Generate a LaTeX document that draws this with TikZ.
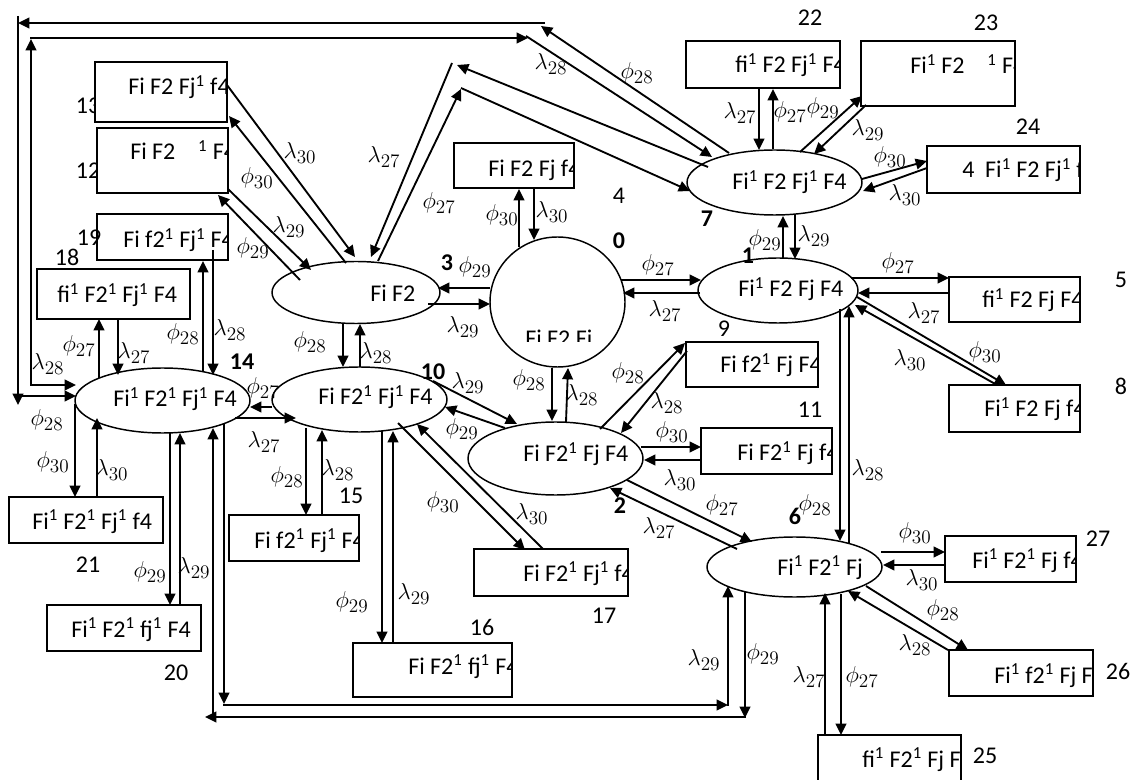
\documentclass[tikz,border=0pt]{standalone}
\usepackage{fontspec}
\setmainfont{Carlito}
\usetikzlibrary{arrows.meta,shapes.geometric,fit}
\newcommand{\su}{\textsuperscript{1}}
\newcommand{\rb}[8]{%
  \node[bx,fit={(#2,#3) (#4,#5)}] (#1) {};
  \begin{scope}
    \clip (#2,#3) rectangle (#4,#5);
    \node[txt,anchor=base west] (#1t) at (#6,#7) {#8};
  \end{scope}}
\newcommand{\lb}[4]{\node[lab] (#1) at (#2,#3) {$#4$};}
\begin{document}
\begin{tikzpicture}[x=0.75pt,y=-0.75pt,
  ell/.style={draw,ellipse,line width=1.1pt,inner sep=0pt,fill=white},
  bx/.style={draw,line width=1.1pt,fill=white,inner sep=0pt},
  txt/.style={font=\fontsize{18}{21}\selectfont,inner sep=0pt},
  num/.style={font=\fontsize{18}{21}\selectfont,inner sep=0pt},
  bnum/.style={font=\fontsize{18}{21}\selectfont\bfseries,inner sep=0pt},
  lab/.style={font=\fontsize{19}{22}\selectfont,inner sep=0pt},
  cn/.style={line width=1.4pt},
  ar/.style={cn,-{Triangle[length=8.5pt,width=8pt]}},
]
\useasboundingbox (0,0) rectangle (1132,780);

% numbers partly hidden behind boxes
\node[num] (k13) at (88,106) {13};
\node[num] (k12) at (88,171) {12};

% ellipses
\node[ell,minimum width=126pt,minimum height=46.5pt] (n3) at (356,292.5) {};
\node[ell,minimum width=101.25pt,minimum height=97.5pt] (n0) at (557.5,302) {};
\node[ell,minimum width=120pt,minimum height=48.75pt] (n1) at (778,290.5) {};
\node[ell,minimum width=131.25pt,minimum height=48.75pt] (n7) at (774.5,182.5) {};
\node[ell,minimum width=131.25pt,minimum height=54.75pt] (n2) at (555.5,458.5) {};
\node[ell,minimum width=131.25pt,minimum height=48.75pt] (n10) at (359.5,399.5) {};
\node[ell,minimum width=131.25pt,minimum height=48.75pt] (n14) at (162.5,400.5) {};
\node[ell,minimum width=131.25pt,minimum height=45pt] (n6) at (794.5,567) {};

\node[txt,anchor=base west] (n3t) at (370,302) {Fi F2};
\begin{scope}
  \clip (480,230) rectangle (640,342);
  \node[txt,anchor=base west] (n0t) at (525,347) {Fi F2 Fi};
\end{scope}
\node[txt,anchor=base west] (n1t) at (738,297) {Fi\su{} F2 Fj F4};
\node[txt,anchor=base west] (n7t) at (732,190) {Fi\su{} F2 Fj\su{} F4};
\node[txt,anchor=base west] (n2t) at (523,462) {Fi F2\su{} Fj F4};
\node[txt,anchor=base west] (n10t) at (318,405) {Fi F2\su{} Fj\su{} F4};
\node[txt,anchor=base west] (n14t) at (113,407) {Fi\su{} F2\su{} Fj\su{} F4};
\node[txt,anchor=base west] (n6t) at (777,575) {Fi\su{} F2\su{} Fj};

% boxes
\rb{b13}{95}{62}{227}{122}{128}{95}{Fi F2 Fj\su{} f4}
\rb{b12}{97}{128}{228}{193}{130}{160}{Fi F2\hspace{0.95em}\su{} F4}
\rb{b19}{97}{214}{228}{260}{123}{248}{Fi f2\su{} Fj\su{} F4}
\rb{b18}{37}{269}{190}{319}{57}{303}{fi\su{} F2\su{} Fj\su{} F4}
\rb{b4}{454}{143}{574}{188}{488}{177}{Fi F2 Fj f4}
\rb{b22}{686}{41}{840}{88}{735}{73}{fi\su{} F2 Fj\su{} F4}
\rb{b23}{861}{41}{1015}{106}{910}{74}{Fi\su{} F2\hspace{0.95em}\su{} F4}
\rb{b24}{927}{146}{1080}{193}{962}{178}{4\hspace{0.45em}Fi\su{} F2 Fj\su{} f4}
\rb{b5}{949}{277}{1080}{322}{982}{308}{fi\su{} F2 Fj F4}
\rb{b8}{949}{385}{1080}{432}{984}{417}{Fi\su{} F2 Fj f4}
\rb{b9}{686}{342}{818}{387}{720}{373}{Fi f2\su{} Fj F4}
\rb{b11}{701}{428}{832}{474}{737}{461}{Fi F2\su{} Fj f4}
\rb{b27}{945}{536}{1076}{582}{972}{568}{Fi\su{} F2\su{} Fj f4}
\rb{b26}{949}{650}{1093}{696}{994}{683}{Fi\su{} f2\su{} Fj F4}
\rb{b25}{818}{735}{961}{790}{862}{767}{fi\su{} F2\su{} Fj F4}
\rb{b17}{474}{549}{628}{596}{523}{581}{Fi F2\su{} Fj\su{} f4}
\rb{b16}{353}{643}{512}{697}{408}{674}{Fi F2\su{} fj\su{} F4}
\rb{b15}{229}{515}{359}{561}{254}{548}{Fi f2\su{} Fj\su{} F4}
\rb{b21}{9}{497}{163}{543}{32}{529}{Fi\su{} F2\su{} Fj\su{} f4}
\rb{b20}{47}{605}{201}{651}{71}{637}{Fi\su{} F2\su{} fj\su{} F4}

% ---------- connectors ----------
% 7 -> 14 (phi28) round the top and the left
\draw[ar] (729,153) -- (541,26);
\draw[ar] (545,23) -- (18,23);
\draw[ar] (18,16) -- (18,405);
\draw[ar] (17.3,396) -- (76,396);
% 14 -> 7 (lambda28)
\draw[ar] (31,385) -- (76,385);
\draw[ar] (31,385.7) -- (31,39);
\draw[ar] (30.3,38) -- (528,38);
\draw[ar] (526,36) -- (712,157);
% 3 <-> 7 (lambda27 / phi27)
\draw[ar] (708,167) -- (457,65);
\draw[ar] (452,63) -- (371,257);
\draw[ar] (378,261) -- (461,89);
\draw[ar] (461,88) -- (690,191);
% 13 <-> 3
\draw[ar] (227,85) -- (355,257);
\draw[ar] (346,263) -- (229,116);
% 12 <-> 3
\draw[ar] (228,189) -- (311,270);
\draw[ar] (300,280) -- (218,195);
% 3 <-> 0
\draw[ar] (490,288) -- (438,288);
\draw[ar] (428,304) -- (490,304);
% 0 <-> 4
\draw[ar] (519,247) -- (519,189);
\draw[ar] (534,189) -- (534,240);
% 0 <-> 2
\draw[ar] (552,368) -- (552,421);
\draw[ar] (566,422) -- (568,368);
% 0 <-> 1
\draw[ar] (621,280) -- (701,280);
\draw[ar] (700,293) -- (623,293);
% 1 <-> 7
\draw[ar] (783,258) -- (783,216);
\draw[ar] (795,215) -- (795,259);
% 7 <-> 22
\draw[ar] (759,88) -- (759,150);
\draw[ar] (773,149) -- (773,89);
% 7 <-> 23
\draw[ar] (800,152) -- (862,96);
\draw[ar] (866,105) -- (814,154);
% 7 <-> 24
\draw[ar] (862,179) -- (927,161);
\draw[ar] (927,168) -- (863,191);
% 1 <-> 5
\draw[ar] (851,278) -- (949,278);
\draw[ar] (949,293) -- (858,293);
% 1 <-> 8
\draw[ar] (857,297) -- (1006,385);
\draw[ar] (997,385) -- (855,305);
% 1 <-> 6
\draw[ar] (840,309) -- (840,541);
\draw[ar] (849,543) -- (849,306);
% 2 <-> 9
\draw[ar] (600,429) -- (685,343);
\draw[ar] (687,351) -- (621,433);
% 2 <-> 11
\draw[ar] (641,447) -- (701,447);
\draw[ar] (701,460) -- (644,460);
% 2 <-> 6
\draw[ar] (627,480) -- (752,542);
\draw[ar] (737,549) -- (610,488);
% 6 <-> 27
\draw[ar] (881,552) -- (945,552);
\draw[ar] (945,565) -- (883,565);
% 6 <-> 26
\draw[ar] (866,586) -- (968,650);
\draw[ar] (948,650) -- (848,591);
% 6 <-> 25
\draw[ar] (825,735) -- (825,593);
\draw[ar] (841,594) -- (841,735);
% 6 -> 14 round the bottom (lambda29)
\draw[ar] (745,592) -- (745,718);
\draw[ar] (745.7,717) -- (205,717);
\draw[ar] (213,717.7) -- (213,428);
% 14 -> 6 round the bottom (phi29)
\draw[ar] (224,423) -- (224,704);
\draw[ar] (223.3,705) -- (728,705);
\draw[ar] (728,705.7) -- (728,586);
% 14 <-> 20
\draw[ar] (170,433) -- (170,605);
\draw[ar] (180,605) -- (180,433);
% 14 <-> 21
\draw[ar] (75,404) -- (75,497);
\draw[ar] (97,497) -- (97,418);
% 14 <-> 18
\draw[ar] (99,378) -- (99,319);
\draw[ar] (118,319) -- (118,375);
% 14 <-> 19
\draw[ar] (203,372) -- (203,261);
\draw[ar] (213,250) -- (213,375);
% 3 <-> 10
\draw[ar] (343,323) -- (343,367);
\draw[ar] (360,367) -- (360,324);
% 14 <-> 10
\draw[ar] (272,407) -- (250,407);
\draw[ar] (235,418) -- (296,418);
% 10 <-> 15
\draw[ar] (306,428) -- (306,515);
\draw[ar] (322,515) -- (322,430);
% 10 <-> 16
\draw[ar] (382,431) -- (382,643);
\draw[ar] (393,643) -- (393,431);
% 10 <-> 17
\draw[ar] (398,423) -- (525,550);
\draw[ar] (543,549) -- (417,424);
% 10 <-> 2
\draw[ar] (433,381) -- (517,424);
\draw[ar] (505,428) -- (445,407);

% ---------- rate labels ----------
\lb{L1}{551}{64}{\lambda_{28}}
\lb{L2}{637}{73}{\phi_{28}}
\lb{L3}{384}{157}{\lambda_{27}}
\lb{L4}{439}{203}{\phi_{27}}
\lb{L5}{300}{153}{\lambda_{30}}
\lb{L6}{257}{178}{\phi_{30}}
\lb{L7}{289}{227}{\lambda_{29}}
\lb{L8}{253}{248}{\phi_{29}}
\lb{L9}{502}{215}{\phi_{30}}
\lb{L10}{552}{212}{\lambda_{30}}
\lb{L11}{475}{267}{\phi_{29}}
\lb{L12}{463}{327}{\lambda_{29}}
\lb{L13}{658}{265}{\phi_{27}}
\lb{L14}{665}{311}{\lambda_{27}}
\lb{L15}{628}{373}{\phi_{28}}
\lb{L16}{667}{403}{\lambda_{28}}
\lb{L17}{672}{432}{\phi_{30}}
\lb{L18}{680}{480}{\lambda_{30}}
\lb{L19}{529}{380}{\phi_{28}}
\lb{L20}{582}{395}{\lambda_{28}}
\lb{L21}{468}{383}{\lambda_{29}}
\lb{L22}{462}{429}{\phi_{29}}
\lb{L23}{310}{342}{\phi_{28}}
\lb{L24}{376}{353}{\lambda_{28}}
\lb{L25}{263}{388}{\phi_{27}}
\lb{L26}{264}{442}{\lambda_{27}}
\lb{L27}{287}{477}{\phi_{28}}
\lb{L28}{338}{470}{\lambda_{28}}
\lb{L29}{443}{502}{\phi_{30}}
\lb{L30}{532}{514}{\lambda_{30}}
\lb{L31}{352}{602}{\phi_{29}}
\lb{L32}{414}{594}{\lambda_{29}}
\lb{L33}{722}{505}{\phi_{27}}
\lb{L34}{659}{528}{\lambda_{27}}
\lb{L35}{704}{660}{\lambda_{29}}
\lb{L36}{763}{654}{\phi_{29}}
\lb{L37}{815}{505}{\phi_{28}}
\lb{L38}{868}{470}{\lambda_{28}}
\lb{L39}{915}{533}{\phi_{30}}
\lb{L40}{922}{580}{\lambda_{30}}
\lb{L41}{943}{610}{\phi_{28}}
\lb{L42}{915}{645}{\lambda_{28}}
\lb{L43}{809}{677}{\lambda_{27}}
\lb{L44}{862}{677}{\phi_{27}}
\lb{L45}{898}{263}{\phi_{27}}
\lb{L46}{924}{313}{\lambda_{27}}
\lb{L47}{985}{352}{\phi_{30}}
\lb{L48}{910}{360}{\lambda_{30}}
\lb{L49}{765}{240}{\phi_{29}}
\lb{L50}{814}{236}{\lambda_{29}}
\lb{L51}{740}{113}{\lambda_{27}}
\lb{L52}{790}{112}{\phi_{27}}
\lb{L53}{823}{108}{\phi_{29}}
\lb{L54}{868}{130}{\lambda_{29}}
\lb{L55}{890}{157}{\phi_{30}}
\lb{L56}{905}{195}{\lambda_{30}}
\lb{L57}{48}{364}{\lambda_{28}}
\lb{L58}{47}{420}{\phi_{28}}
\lb{L59}{79}{346}{\phi_{27}}
\lb{L60}{134}{353}{\lambda_{27}}
\lb{L61}{183}{334}{\phi_{28}}
\lb{L62}{230}{330}{\lambda_{28}}
\lb{L63}{53}{462}{\phi_{30}}
\lb{L64}{112}{470}{\lambda_{30}}
\lb{L65}{150}{572}{\phi_{29}}
\lb{L66}{194}{568}{\lambda_{29}}

% ---------- state numbers ----------
\node[bnum] (s0) at (619,241) {0};
\node[bnum] (s1) at (748,256) {1};
\node[bnum] (s2) at (620,506) {2};
\node[bnum] (s3) at (447,263) {3};
\node[bnum] (s6) at (795,516) {6};
\node[bnum] (s7) at (707,219) {7};
\node[bnum] (s10) at (433,372) {10};
\node[bnum] (s14) at (242,362) {14};
\node[num] (k4) at (619,196) {4};
\node[num] (k5) at (1121,280) {5};
\node[num] (k8) at (1121,386) {8};
\node[num] (k9) at (724,329) {9};
\node[num] (k11) at (810,410) {11};
\node[num] (k15) at (351,496) {15};
\node[num] (k16) at (482,627) {16};
\node[num] (k17) at (604,616) {17};
\node[num] (k18) at (67,257) {18};
\node[num] (k19) at (89,238) {19};
\node[num] (k20) at (176,673) {20};
\node[num] (k21) at (88,565) {21};
\node[num] (k22) at (810,18) {22};
\node[num] (k23) at (986,23) {23};
\node[num] (k24) at (1028,127) {24};
\node[num] (k25) at (985,756) {25};
\node[num] (k26) at (1118,671) {26};
\node[num] (k27) at (1098,539) {27};
\end{tikzpicture}
\end{document}
